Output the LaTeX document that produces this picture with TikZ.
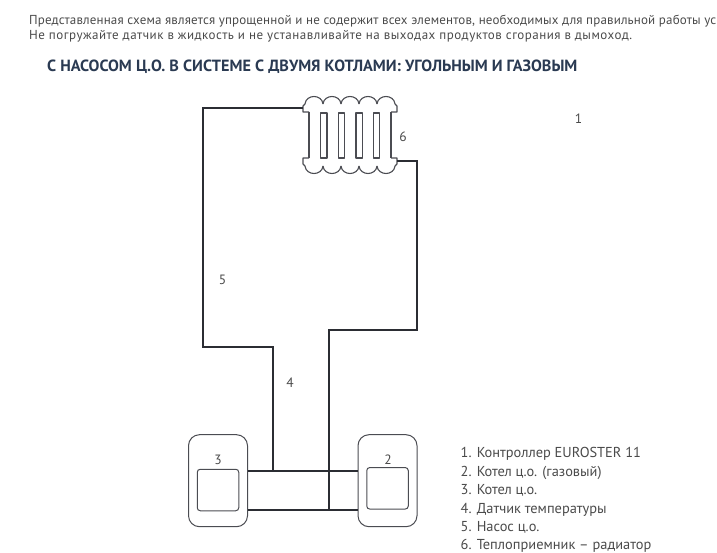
\documentclass[tikz,border=0pt]{standalone}
\usepackage{fontspec}
\setmainfont{PT Sans}
\definecolor{pipecol}{HTML}{2B2D33}
\definecolor{titlecol}{HTML}{2A3A52}
\definecolor{textcol}{HTML}{4A4A4A}
\usetikzlibrary{
    positioning,
    calc
}
\tikzstyle{boiler} = [
    rectangle,
    rounded corners=11pt,
    draw=pipecol!85,
    line width=1pt,
    minimum width=59pt,
    minimum height=92pt,
    inner sep=0pt
]
\tikzstyle{firebox} = [
    rectangle,
    rounded corners=3pt,
    draw=pipecol!85,
    line width=1pt,
    minimum width=41.5pt,
    minimum height=41.5pt,
    inner sep=0pt
]
\tikzstyle{heater} = [
    draw=pipecol!85,
    line width=1.1pt,
    line join=round
]
\tikzstyle{pipe} = [
    draw=pipecol,
    line width=2pt,
    line join=miter
]
\tikzstyle{number} = [
    font=\fontsize{13.5}{15}\selectfont,
    text=textcol,
    inner sep=0pt
]
\tikzstyle{notice} = [
    text=textcol,
    anchor=west,
    inner sep=0pt
]

\begin{document}
\begin{tikzpicture}[x=1pt, y=-1pt]
    \useasboundingbox (0,0) rectangle (717,553);

    % Header
    \node[notice, font=\fontsize{13}{15}\selectfont\addfontfeature{LetterSpace=1.2}] (line1) at (29,21.5) {Представленная схема является упрощенной и не содержит всех элементов, необходимых для правильной работы ус};
    \node[notice, font=\fontsize{13}{15}\selectfont\addfontfeature{LetterSpace=3.8}] (line2) at (29,36.5) {Не погружайте датчик в жидкость и не устанавливайте на выходах продуктов сгорания в дымоход.};
    \node[anchor=west, inner sep=0pt, text=titlecol, font=\fontsize{16.2}{18}\selectfont\bfseries] (title) at (47,67) {С НАСОСОМ Ц.О. В СИСТЕМЕ С ДВУМЯ КОТЛАМИ: УГОЛЬНЫМ И ГАЗОВЫМ};

    % Boilers
    \node[boiler] (boilerL) at (218,480.7) {};
    \node[boiler] (boilerR) at (387.5,480.7) {};
    \node[firebox] (fireL) at (218,490) {};
    \node[firebox] (fireR) at (387.5,488.3) {};

    % Radiator
    \draw[heater] (309,112) -- (303,112) -- (303,106) -- (305,104);
    \draw[heater] (391,112) -- (397,112) -- (397,106) -- (395,104);
    \draw[heater] (309,158) -- (303,158) -- (303,164) -- (305,166);
    \draw[heater] (391,158) -- (397,158) -- (397,164) -- (395,166);
    \draw[heater] (309,112) -- (309,158);
    \draw[heater] (391,112) -- (391,158);
    \foreach \x in {305,323,341,359,377} {
        \draw[heater] (\x,104) .. controls (\x+1,94) and (\x+17,94) .. (\x+18,104);
        \draw[heater] (\x,166) .. controls (\x+1,176) and (\x+17,176) .. (\x+18,166);
    }
    \foreach \x in {320.7,338.3,356,373.5} {
        \draw[heater] (\x,113) rectangle (\x+6.3,158);
    }

    % Pipe corners
    \coordinate (radIn) at (303,108);
    \coordinate (radOut) at (397,161);
    \coordinate (topL) at (203,108);
    \coordinate (stepL) at (203,347);
    \coordinate (stepM) at (272.5,347);
    \coordinate (teeL) at (272.5,471);
    \coordinate (cornerR) at (417,161);
    \coordinate (stepR) at (417,330);
    \coordinate (stepN) at (328.5,330);
    \coordinate (teeR) at (328.5,509.5);

    % Pipes
    \draw[pipe] (radIn) -- (topL) -- (stepL) -- (stepM) -- (teeL);
    \draw[pipe] (radOut) -- (cornerR) -- (stepR) -- (stepN) -- (teeR);
    \draw[pipe] (boilerL.east |- teeL) -- (boilerR.west |- teeL);
    \draw[pipe] (boilerL.east |- teeR) -- (boilerR.west |- teeR);

    % Numbers
    \node[number] (num1) at (578.5,118.5) {1};
    \node[number] (num2) at (388,459.5) {2};
    \node[number] (num3) at (218,459.5) {3};
    \node[number] (num4) at (290,382.5) {4};
    \node[number] (num5) at (222.5,279.5) {5};
    \node[number] (num6) at (403,136.5) {6};

    % Legend
    \node[number, anchor=north west, align=left, font=\fontsize{14.4}{18.4}\selectfont] (legend) at (460.5,447.5) {1. Контроллер EUROSTER 11\\2. Котел ц.о. (газовый)\\3. Котел ц.о.\\4. Датчик температуры\\5. Насос ц.о.\\6. Теплоприемник – радиатор};
\end{tikzpicture}
\end{document}
